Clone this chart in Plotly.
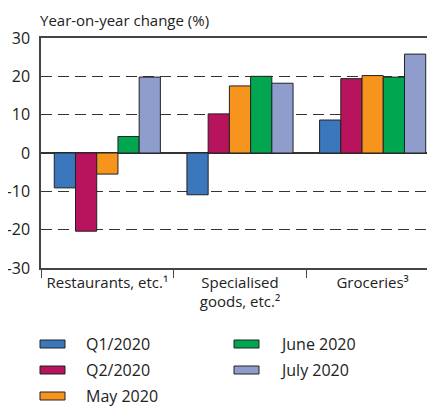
import plotly.graph_objects as go

categories = ["Restaurants, etc.¹", "Specialised<br>goods, etc.²", "Groceries³"]
series_names = ["Q1/2020", "Q2/2020", "May 2020", "June 2020", "July 2020"]
q1_2020 = [-9.1, -10.9, 8.6]
q2_2020 = [-20.4, 10.2, 19.4]
may_2020 = [-5.5, 17.5, 20.2]
june_2020 = [4.3, 20.0, 19.8]
july_2020 = [19.8, 18.2, 25.8]
y_ticks = [-30, -20, -10, 0, 10, 20, 30]
y_tick_labels = ["-30", "-20", "-10", "0", "10", "20", "30"]

values = [q1_2020, q2_2020, may_2020, june_2020, july_2020]
colors = ["#3a77bc", "#b8135d", "#f7941e", "#00a650", "#8f9dcd"]

FONT = "Open Sans"
OFF = 8  # page body margin
W, H = 435 - OFF, 407 - OFF
L, T = 41 - OFF, 38 - OFF
PB = 268 - OFF  # plot bottom px (figure coords)
PW = W - L
PH = PB - T

def px_x(px):
    return (px - OFF - L) / PW

def px_y(py):
    return (PB - (py - OFF)) / PH

fig = go.Figure()
for name, vals, col in zip(series_names, values, colors):
    fig.add_trace(go.Bar(
        x=categories, y=vals, name=name,
        marker=dict(color=col, line=dict(color="#222222", width=1)),
        showlegend=False,
    ))

# manual legend (column-major, two columns)
shapes = []
annotations = []
legend_pos = [(40, 344), (40, 370), (40, 396), (234, 344), (234, 370)]
for (lx, ly), name, col in zip(legend_pos, series_names, colors):
    shapes.append(dict(type="rect", xref="paper", yref="paper",
                       x0=px_x(lx), x1=px_x(lx + 25), y0=px_y(ly + 4), y1=px_y(ly - 4),
                       fillcolor=col, line=dict(color="#222222", width=1)))
    annotations.append(dict(text=name, xref="paper", yref="paper",
                            x=px_x(lx + 44), y=px_y(ly), xanchor="left", yanchor="middle",
                            showarrow=False, font=dict(family=FONT, size=16, color="#222222")))

annotations.append(dict(text="Year-on-year change (%)", xref="paper", yref="paper",
                        x=px_x(38), y=px_y(20), xanchor="left", yanchor="middle",
                        showarrow=False, font=dict(family=FONT, size=15, color="#222222")))

fig.update_layout(
    width=W, height=H,
    margin=dict(l=L, r=0, t=T, b=H - PB, pad=0, autoexpand=False),
    plot_bgcolor="white", paper_bgcolor="white",
    barmode="group", bargap=0.2, bargroupgap=0,
    font=dict(family=FONT, size=15, color="#222222"),
    shapes=shapes, annotations=annotations,
    showlegend=False,
)
fig.update_xaxes(
    range=[-0.5, 2.47], showline=True, linecolor="#444444", linewidth=1.5, mirror=True,
    ticks="outside", tickson="boundaries", ticklen=8, tickcolor="#444444", tickwidth=1,
    showgrid=False, automargin=False, tickfont=dict(family=FONT, size=15, color="#222222"),
)
fig.update_yaxes(
    range=[-30, 30], tickvals=y_ticks, ticktext=y_tick_labels, showline=True,
    linecolor="#444444", linewidth=1.5, automargin=False,
    showgrid=True, gridcolor="#333333", gridwidth=1.3, griddash="11px,6px",
    zeroline=True, zerolinecolor="#333333", zerolinewidth=1.5,
    ticks="", ticklabelstandoff=6, tickfont=dict(family=FONT, size=16, color="#222222"),
)

fig.write_html("out.html")
